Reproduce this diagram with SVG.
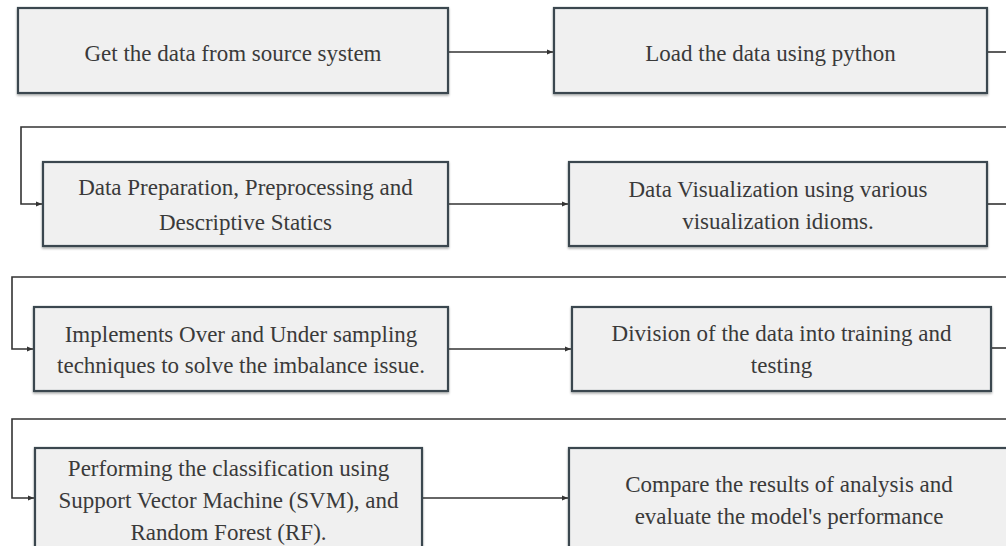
<svg xmlns="http://www.w3.org/2000/svg" width="1006" height="546" viewBox="0 0 1006 546">
<defs>
<style>
.box{fill:#f0f0f0;stroke:#3b4650;stroke-width:2.2;filter:url(#sh)}
.t{font-family:"Liberation Serif","Times New Roman",serif;font-size:23px;fill:#3a3a3a;text-anchor:middle}
.c{fill:none;stroke:#333;stroke-width:1.6}
</style>
<filter id="sh" x="-5%" y="-10%" width="110%" height="130%">
<feDropShadow dx="0" dy="1.5" stdDeviation="1.2" flood-color="#000" flood-opacity="0.35"/>
</filter>
<marker id="ah" viewBox="0 0 10 10" refX="10" refY="5" markerWidth="6" markerHeight="6" markerUnits="userSpaceOnUse" orient="auto">
<path d="M0,1 L10,5 L0,9 Z" fill="#333"/>
</marker>
</defs>
<rect width="1006" height="546" fill="#fff"/>
<g id="connectors">
<path class="c" d="M448,52 H553" marker-end="url(#ah)"/>
<path class="c" d="M987,52 H1006"/>
<path class="c" d="M1006,127 H21 V204 H42" marker-end="url(#ah)"/>
<path class="c" d="M448,204 H568" marker-end="url(#ah)"/>
<path class="c" d="M987,204 H1006"/>
<path class="c" d="M1006,277 H12 V349 H33" marker-end="url(#ah)"/>
<path class="c" d="M448,349 H571" marker-end="url(#ah)"/>
<path class="c" d="M991,348 H1006"/>
<path class="c" d="M1006,419 H12 V498 H34" marker-end="url(#ah)"/>
<path class="c" d="M422,498 H568" marker-end="url(#ah)"/>
</g>
<g id="n1">
<rect class="box" x="18" y="8" width="430" height="85"/>
<text class="t" x="233" y="61">Get the data from source system</text>
</g>
<g id="n2">
<rect class="box" x="554" y="8" width="433" height="85"/>
<text class="t" x="770.5" y="61">Load the data using python</text>
</g>
<g id="n3">
<rect class="box" x="43" y="162" width="405" height="84"/>
<text class="t" x="245.5" y="195">Data Preparation, Preprocessing and</text>
<text class="t" x="245.5" y="230">Descriptive Statics</text>
</g>
<g id="n4">
<rect class="box" x="569" y="162" width="418" height="84"/>
<text class="t" x="778" y="197">Data Visualization using various</text>
<text class="t" x="778" y="229">visualization idioms.</text>
</g>
<g id="n5">
<rect class="box" x="34" y="307" width="414" height="84"/>
<text class="t" x="241" y="342">Implements Over and Under sampling</text>
<text class="t" x="241" y="373">techniques to solve the imbalance issue.</text>
</g>
<g id="n6">
<rect class="box" x="572" y="307" width="419" height="84"/>
<text class="t" x="781.5" y="341">Division of the data into training and</text>
<text class="t" x="781.5" y="373">testing</text>
</g>
<g id="n7">
<rect class="box" x="35" y="448" width="387" height="110"/>
<text class="t" x="228.5" y="476">Performing the classification using</text>
<text class="t" x="228.5" y="508">Support Vector Machine (SVM), and</text>
<text class="t" x="228.5" y="540">Random Forest (RF).</text>
</g>
<g id="n8">
<rect class="box" x="569" y="448" width="440" height="110"/>
<text class="t" x="789" y="492">Compare the results of analysis and</text>
<text class="t" x="789" y="524">evaluate the model's performance</text>
</g>
</svg>
